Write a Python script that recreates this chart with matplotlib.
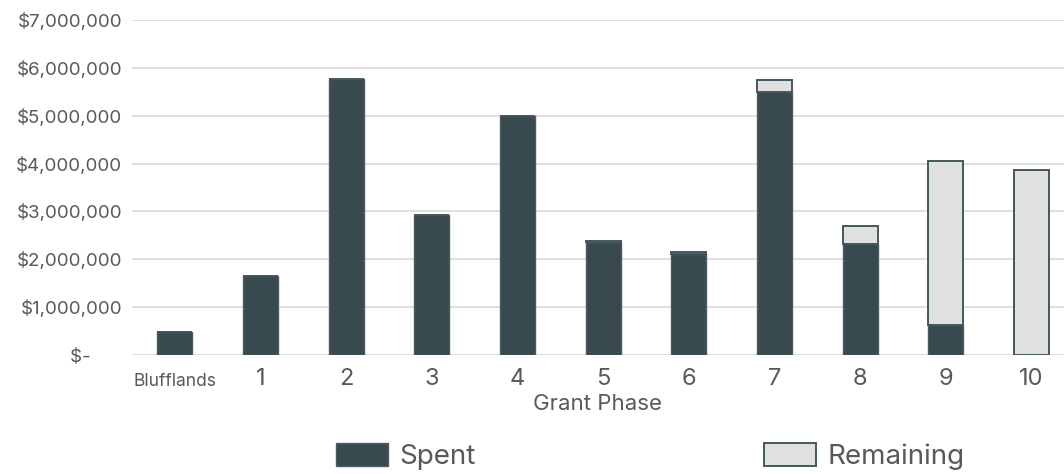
import numpy as np
import matplotlib.pyplot as plt
from matplotlib.ticker import FuncFormatter


plt.rcParams['font.family'] = ['Inter', 'DejaVu Sans']


phases = ['Blufflands', '1', '2', '3', '4', '5', '6', '7', '8', '9', '10']
spent = [480000, 1650000, 5770000, 2930000, 5000000, 2360000, 2100000,
         5500000, 2320000, 620000, 0]
remaining = [0, 0, 0, 0, 0, 20000, 45000, 250000, 380000, 3440000, 3870000]
y_ticks = [0, 1000000, 2000000, 3000000, 4000000, 5000000, 6000000, 7000000]

dark = '#384a4e'
light = '#e0e0e0'
text_gray = '#595959'


def money(v, pos):
    if v == 0:
        return '$-      '
    return '${:,.0f}'.format(v)


fig = plt.figure(figsize=(10.64, 4.74), dpi=100)
ax = fig.add_axes([0.124, 0.251, 0.876, 0.707])

x = np.arange(len(phases))
ax.bar(x, spent, width=0.41, color=dark, edgecolor='#4d5d61',
       linewidth=1.0, label='Spent', zorder=3)
ax.bar(x, remaining, width=0.41, bottom=spent, color=light,
       edgecolor='#44585c', linewidth=1.4, label='Remaining', zorder=3)

ax.set_ylim(0, 7000000)
ax.set_xlim(-0.5, 10.38)
ax.set_yticks(y_ticks)
ax.yaxis.set_major_formatter(FuncFormatter(money))
ax.grid(axis='y', color='#d9d9d9', linewidth=1.2, zorder=0)

for side in ['top', 'right', 'left', 'bottom']:
    ax.spines[side].set_visible(False)

ax.tick_params(axis='y', length=0, pad=7, labelsize=13.5, labelcolor=text_gray)
ax.tick_params(axis='x', length=0, pad=9, labelsize=17, labelcolor=text_gray)
ax.set_xticks(x)
ax.set_xticklabels(phases)
ax.get_xticklabels()[0].set_fontsize(12.5)
ax.get_xticklabels()[0].set_y(-0.015)

ax.set_xlabel('Grant Phase', fontsize=16, color=text_gray, labelpad=3)

fig.legend(loc='center', bbox_to_anchor=(0.611, 0.036), ncol=2, frameon=False,
           fontsize=20, handlelength=1.87, handleheight=0.9,
           columnspacing=10.4, handletextpad=0.4, labelcolor=text_gray)

fig.savefig('out.png', dpi=100)
